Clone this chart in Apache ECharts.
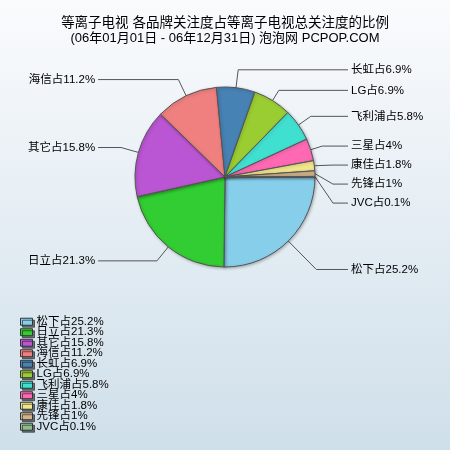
<!DOCTYPE html>
<html><head><meta charset="utf-8">
<script src="https://cdn.jsdelivr.net/npm/echarts@6/dist/echarts.min.js"></script>
<style>html,body{margin:0;padding:0;}#c{width:450px;height:450px;}</style>
</head><body><div id="c"></div>
<script>
var names = ['松下','日立','其它','海信','长虹','LG','飞利浦','三星','康佳','先锋','JVC'];
var values = [25.2,21.3,15.8,11.2,6.9,6.9,5.8,4,1.8,1,0.1];
var colors = ['#87CEEB','#32CD32','#BA55D3','#F08080','#4682B4','#9ACD32','#40E0D0','#FF69B4','#F0E68C','#D2B48C','#8FBC8F'];
var lineLens = [40,18,18,18,18,12,15,12,18,18,18];
var lineLens2 = [15,23,23,23,15,15,15,15,15,15,15];
var titleLines = ['等离子电视 各品牌关注度占等离子电视总关注度的比例','(06年01月01日 - 06年12月31日) 泡泡网 PCPOP.COM'];

var FONT = '"Liberation Sans","Noto Sans CJK SC",sans-serif';
var data = names.map(function(n,i){return {name:n, value:values[i], itemStyle:{color:colors[i]}, labelLine:{length:lineLens[i], length2:lineLens2[i]}};});
var valMap = {}; names.forEach(function(n,i){valMap[n]=values[i];});

var chart = echarts.init(document.getElementById('c'));
chart.setOption({
  backgroundColor: {type:'linear',x:0,y:0,x2:0,y2:1,colorStops:[{offset:0,color:'#fafbfd'},{offset:1,color:'#cfdfea'}]},
  title: {text: '{a|' + titleLines[0] + '}\n{b|' + titleLines[1] + '}', left:'center', top:11,
    textStyle:{fontFamily:FONT, fontWeight:'normal', rich:{
      a:{fontSize:13.5, color:'#000', fontFamily:FONT, fontWeight:'normal', lineHeight:15, align:'center'},
      b:{fontSize:13, color:'#000', fontFamily:FONT, fontWeight:'normal', lineHeight:15, align:'center'}}}},
  legend: {orient:'vertical', left:15, top:311, height:200, itemWidth:12, itemHeight:7, itemGap:-1,
    icon:'rect',
    itemStyle:{borderColor:'#333', borderWidth:1, shadowColor:'rgba(0,0,0,0.5)', shadowOffsetX:2, shadowOffsetY:2, shadowBlur:0},
    textStyle:{fontSize:11.5, color:'#000', fontFamily:FONT, lineHeight:10, padding:[0,0,0,-1]},
    formatter:function(n){return n+'占'+valMap[n]+'%';}, selectedMode:false},
  series: [{
    type:'pie', center:[225,177], radius:90, startAngle:0, clockwise:true,
    data:data, animation:false,
    itemStyle:{borderColor:'#555', borderWidth:1, shadowColor:'rgba(0,0,0,0.25)', shadowBlur:3, shadowOffsetX:1, shadowOffsetY:1},
    label:{formatter:'{b}占{c}%', fontSize:11.5, lineHeight:17, color:'#000', fontFamily:FONT, alignTo:'labelLine', distanceToLabelLine:3},
    labelLine:{length:18, length2:15, lineStyle:{color:'#555', width:1}},
    emphasis:{disabled:true}
  }]
});
</script></body></html>
